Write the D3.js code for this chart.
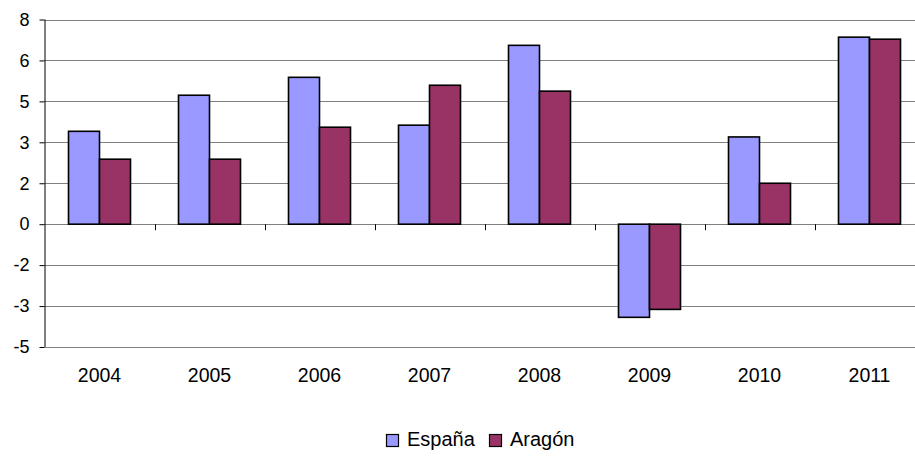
<!DOCTYPE html>
<html>
<head>
<meta charset="utf-8">
<script src="https://cdn.jsdelivr.net/npm/d3@7"></script>
<style>
  body { margin: 0; background: #fff; }
  text { font-family: "Liberation Sans", Arial, sans-serif; fill: #000; }
</style>
</head>
<body>
<svg id="chart" width="915" height="456"></svg>
<script>
// données
var annees = ["2004", "2005", "2006", "2007", "2008", "2009", "2010", "2011"];
var series = ["España", "Aragón"];
var espana = [3.63, 5.04, 5.74, 3.87, 6.99, -3.64, 3.41, 7.31];
var aragon = [2.54, 2.54, 3.79, 5.43, 5.2, -3.33, 1.6, 7.23];
var yTicks = [-4.8, -3.2, -1.6, 0, 1.6, 3.2, 4.8, 6.4, 8];
var couleurs = ["#9999ff", "#993366"];

var svg = d3.select("#chart");
var gauche = 44.5, droite = 924.5, haut = 19.5, bas = 347;

var x = d3.scaleBand().domain(annees).range([gauche, droite]);
var y = d3.scaleLinear().domain([-4.8, 8]).range([bas, haut]);
var xs = d3.scaleBand().domain(series).range([0, 62]);

// lignes de grille
svg.append("g").selectAll("line")
  .data(yTicks)
  .enter().append("line")
  .attr("x1", gauche).attr("x2", 915)
  .attr("y1", function(d) { return Math.round(y(d)) + 0.5; })
  .attr("y2", function(d) { return Math.round(y(d)) + 0.5; })
  .style("stroke", "#808080").style("stroke-width", 1.2);

// barres
var donnees = annees.map(function(a, i) { return {annee: a, v: [espana[i], aragon[i]]}; });
var groupes = svg.append("g").selectAll("g")
  .data(donnees)
  .enter().append("g")
  .attr("transform", function(d) { return "translate(" + (x(d.annee) + x.bandwidth() / 2 - 31) + ",0)"; });

groupes.selectAll("rect")
  .data(function(d) { return d.v.map(function(v, j) { return {s: series[j], v: v, j: j}; }); })
  .enter().append("rect")
  .attr("x", function(d) { return xs(d.s); })
  .attr("width", xs.bandwidth())
  .attr("y", function(d) { return y(Math.max(0, d.v)); })
  .attr("height", function(d) { return Math.abs(y(d.v) - y(0)); })
  .style("fill", function(d) { return couleurs[d.j]; })
  .style("stroke", "#000").style("stroke-width", 1.6);

// axe y (étiquettes arrondies, tiret simple pour le signe moins)
var yAxis = d3.axisLeft(y).tickValues(yTicks).tickSize(5).tickPadding(10)
  .tickFormat(function(d) { return String(Math.round(d)); });
svg.append("g").attr("transform", "translate(" + gauche + ",0)").call(yAxis)
  .call(function(g) {
    g.select(".domain").attr("d", "M0.5," + haut + "V" + bas).style("stroke", "#000");
    g.selectAll(".tick line").style("stroke", "#000");
    g.selectAll("text").style("font-size", "18px").style("font-family", "Liberation Sans, Arial, sans-serif");
  });

// séparateurs de catégories sur la ligne du zéro
svg.append("g").selectAll("line")
  .data(annees.slice(1))
  .enter().append("line")
  .attr("x1", function(d) { return Math.round(x(d)) + 0.5; })
  .attr("x2", function(d) { return Math.round(x(d)) + 0.5; })
  .attr("y1", y(0)).attr("y2", y(0) + 6)
  .style("stroke", "#000");

// étiquettes des années
svg.append("g").selectAll("text")
  .data(annees)
  .enter().append("text")
  .attr("x", function(d) { return x(d) + x.bandwidth() / 2; })
  .attr("y", 382)
  .attr("text-anchor", "middle")
  .style("font-size", "19.5px")
  .text(function(d) { return d; });

// légende
var posLeg = [386, 489];
series.forEach(function(s, i) {
  svg.append("rect").attr("x", posLeg[i] + 0.5).attr("y", 434.5).attr("width", 12).attr("height", 12)
    .style("fill", couleurs[i]).style("stroke", "#000").style("stroke-width", 1.2);
  svg.append("text").attr("x", posLeg[i] + 21).attr("y", 446)
    .style("font-size", "20px").text(s);
});
</script>
</body>
</html>
